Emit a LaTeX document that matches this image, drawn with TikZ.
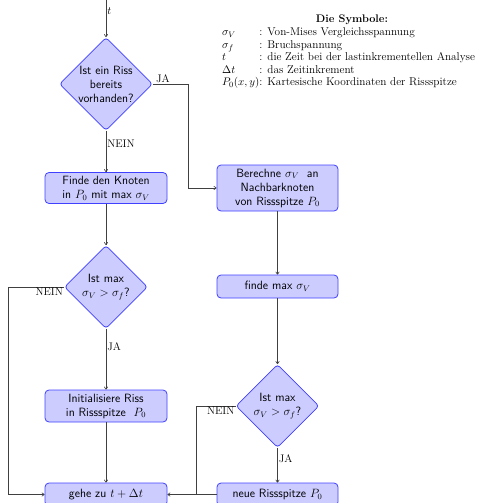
\documentclass[tikz,border=0pt]{standalone}
\usetikzlibrary{shapes.geometric,arrows.meta}
\begin{document}
\begin{tikzpicture}[x=1pt,y=-1pt,
  box/.style={draw=blue!75, line width=0.8pt, fill=blue!20, rounded corners=4pt,
    align=center, inner sep=0pt, font=\sffamily\fontsize{12}{14}\selectfont},
  dia/.style={draw=blue!75, line width=0.8pt, fill=blue!20, shape=diamond, aspect=1,
    rounded corners=3pt, align=center, inner sep=0pt, font=\sffamily\fontsize{12}{14}\selectfont},
  conn/.style={draw=black!75, line width=0.6pt},
  arr/.style={conn, -{To[length=3pt,width=4pt]}},
  lab/.style={font=\fontsize{11}{13}\selectfont, inner sep=1pt}
]
\useasboundingbox (0,0) rectangle (486,503);

\coordinate (start) at (106,0);
\node[dia, minimum width=93pt, minimum height=93pt] (d1) at (106,84) {Ist ein Riss\\bereits\\vorhanden?};
\node[box, minimum width=122pt, minimum height=31pt] (b1) at (106,188) {Finde den Knoten\\in $P_0$ mit max $\sigma_V$};
\node[dia, minimum width=83pt, minimum height=83pt] (d2) at (106,287) {Ist max\\$\sigma_V>\sigma_f$?};
\node[box, minimum width=122pt, minimum height=32pt] (b2) at (106,406) {Initialisiere Riss\\in Rissspitze~~$P_0$};
\node[box, minimum width=122pt, minimum height=23pt] (b3) at (106,494.5) {gehe zu $t+\Delta t$};

\node[box, minimum width=121pt, minimum height=46pt] (r1) at (277.5,188) {Berechne $\sigma_V$~ an\\Nachbarknoten\\von Rissspitze $P_0$};
\node[box, minimum width=121pt, minimum height=23pt] (r2) at (277.5,286.5) {finde max $\sigma_V$};
\node[dia, minimum width=83pt, minimum height=83pt] (d3) at (277.5,406) {Ist max\\$\sigma_V>\sigma_f$?};
\node[box, minimum width=121pt, minimum height=23pt] (r3) at (277.5,494.5) {neue Rissspitze $P_0$};

\coordinate (c1) at (188,84);
\coordinate (c2) at (188,188);
\coordinate (c3) at (8,287);
\coordinate (c4) at (8,494.5);
\coordinate (c5) at (196,406);
\coordinate (c6) at (196,494.5);

\draw[arr] (start) -- node[lab, right, pos=0.3] {$t$} (d1.north);
\draw[arr] (d1.east) -- (c1) -- (c2) -- (r1.west);
\node[lab, anchor=south west] at ([xshift=2pt]d1.east) {JA};
\draw[arr] (d1.south) -- node[lab, right, pos=0.3] {NEIN} (b1.north);
\draw[arr] (b1.south) -- (d2.north);
\draw[arr] (d2.west) -- (c3) -- (c4) -- (b3.west);
\node[lab, anchor=north east] at (d2.west) {NEIN};
\draw[arr] (d2.south) -- node[lab, right, pos=0.3] {JA} (b2.north);
\draw[arr] (b2.south) -- (b3.north);
\draw[arr] (r1.south) -- (r2.north);
\draw[arr] (r2.south) -- (d3.north);
\draw[arr] (d3.south) -- node[lab, right, pos=0.3] {JA} (r3.north);
\draw[conn] (d3.west) -- (c5) -- (c6);
\node[lab, anchor=north east] at (d3.west) {NEIN};
\draw[arr] (r3.west) -- (b3.east);

\node[font=\bfseries\fontsize{11}{13}\selectfont, inner sep=0pt] (title) at (352,20) {Die Symbole:};
\node[anchor=north west, inner sep=0pt, font=\fontsize{11.3}{12.4}\selectfont] (legend) at (222,27) {%
\begin{tabular}{@{}l@{}l@{}}
$\sigma_V$ & : Von-Mises Vergleichsspannung\\
$\sigma_f$ & : Bruchspannung\\
$t$ & : die Zeit bei der lastinkrementellen Analyse\\
$\Delta t$ & : das Zeitinkrement\\
$P_0(x,y)$ & : Kartesische Koordinaten der Rissspitze
\end{tabular}};
\end{tikzpicture}
\end{document}
